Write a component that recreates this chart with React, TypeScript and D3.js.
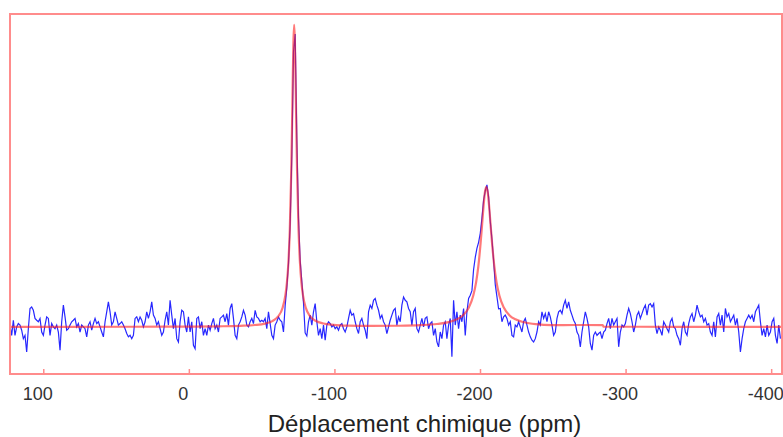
import React from "react";
import * as d3 from "d3";

// ---- data ----
const X_TICKS = [100, 0, -100, -200, -300, -400];
const X_TITLE = "Déplacement chimique (ppm)";
const PPM_RANGE = [123.2, -407.1];
const INTENSITY_RANGE = [-15.6, 103.6];

// experimental spectrum: evenly sampled in ppm
const SPEC_START_PPM = 123.2;
const SPEC_STEP_PPM = 1.1455;
const specIntensity = [
  0.6, -2.8, 2.2, -2.8, 0, 1.1, 0.6, -1.1, -3.9, -2.8,
  -8.3, -0.6, 6.1, 6.6, 5.5, 2.8, 2.2, 1.7, 2.8, -1.7,
  -2.8, 0.6, 3.3, 2.8, -2.8, 1.1, 0, -0.6, 0.6, -1.7,
  -7.7, 1.7, 7.2, 3.3, -1.1, -0.6, 0.6, 1.7, 2.2, 2.8,
  0, 1.1, -1.7, 0.6, 0, -0.6, -3.3, 0.6, 1.7, -1.1,
  1.1, 2.8, 1.1, 1.7, 0, -1.7, -3.3, 1.7, 5.0, 8.3,
  5.0, 0.6, 1.7, 5.0, 2.8, 0.6, 1.1, 1.7, 0.6, -0.6,
  -2.2, -3.3, -2.8, -3.9, -2.8, 2.8, 3.3, 1.7, 3.3, 2.2,
  0, 1.7, 5.0, 2.8, 5.0, 8.3, 3.9, 2.8, 0.6, 1.7,
  -0.6, -2.8, -1.7, 2.2, 5.0, 0.6, 8.8, 3.9, -0.6, 2.8,
  -3.9, -5.0, 1.7, 5.5, 5.0, 0.6, -1.7, 3.3, -1.7, 1.7,
  -6.1, -7.2, 2.8, 3.3, -0.6, 1.7, -2.8, -0.6, -2.8, 0.6,
  -1.1, 1.1, 2.8, -0.6, 0.6, -1.7, 2.8, 3.3, 3.9, 1.7,
  4.4, 0.6, 6.1, 7.7, 2.8, -2.8, -3.9, 0.6, 1.7, 3.3,
  5.5, 3.9, 0.6, 0, 1.7, 2.8, 1.1, 5.5, 3.3, 2.8,
  1.7,
  2.2, 1.7, 2.8, -0.6, 5.0, 1.1, -2.8, -3.9, 0.6, 1.7,
  3.3, 2.2, 1.7, -1.7, 7, 13, 21, 34, 57, 91,
  97, 62, 36, 22, 15, 8, -2, -3, 1.7, 3.9,
  0.6, 5.0, 7.7, 1.7, -2.8, -0.6, -3.9, 0.6, -4.4, 0.6,
  1.7, 1.1, 0, 0.6, -0.6, 0, -1.1, 0.6, 1.1, -0.6,
  -1.7, 0, 2.8, 5.5, 3.9, 4.4, 1.7, -0.6, -2.2, 1.7,
  2.8, 0.6, -1.1, -3.9, 5.0, 7.2, 6.1, 8.8, 9.4, 7.2,
  5.5, 2.8, 3.9, 1.7, 0.6, -2.2, 0, 2.2, 3.9, 5.5,
  6.1, 0.6, 3.3, 1.7, 7.2, 9.9, 8.8, 8.3, 6.1, 5.0,
  0.6, 5.0, 6.1, -0.6, -1.7, 0.6, 2.8, 0, 2.8, 3.3,
  -0.6, 1.1, 1.7, -2.8, -0.6, -5.0, -6.6, -1.7, -3.9, 0.6,
  1.7, -3.9, 0.6, 2.8, -9.9, 8.8, 0.6, 5.0, -0.6, 3.9,
  1.7, 6.1, -2.8, 5.0, 9.4, 10.5,
  12, 19, 23, 26, 28, 31, 36, 42, 45, 47, 43, 35, 29, 22, 14,
  10, 6, 6.1, 1.7, 3.3, 3.9, 2.8, 0.6, 1.7, -2.8, -3.3, 0.6, 0,
  1.7, 0, -1.7, 1.7, 2.8, 0.6, -1.7, -3.3, -4.4, -5.0,
  -3.9, -1.7, 1.7, 0.6, 5.0, 2.8, 4.4, 1.7, 5.0, 3.3,
  0.6, -2.8, -1.7, 2.8, 5.0, 5.5, 4.4, 7.2, 8.8, 6.1,
  8.3, 5.5, 3.9, 2.2, 1.1, -1.7, -2.8, -6.6, -1.7, 1.7,
  5.0, 2.8, 0, -5.5, -7.7, -2.8, -1.7, -2.8, -2.2, -1.7,
  -3.9, -1.7, -1.1, 1.1, 2.8, -0.6, 2.8, 0.6, 1.7, 2.8,
  -6.6, -1.7, 0.6, 0, 1.1, 3.9, 6.1, 4.4, 1.7, -1.7,
  0.6, 3.9, 5.0, 2.8, 4.4, 6.1, 7.2, 3.9, 7.2, 7.7,
  6.6, 7.7, 0.6, -2.2, 0, -1.1, -2.8, 1.7, 0.6, -0.6,
  -1.7, 1.7, 2.8, 0, -0.6, -2.8, -3.9, -6.1, -0.6, 1.7,
  -1.7, -2.8, 1.1, 3.3, 4.4, 1.7, 3.9, 7.2, 5.0, 3.3,
  3.9, 1.7, 2.8, 0.6, 1.1, -1.7, -2.8, 1.7, -3.3, 3.3,
  4.4, 0.6, 3.9, -1.7, 6.1, 3.3, 4.4, 1.7, 2.8, 3.9,
  0.6, 2.8, -1.7, -8.3, -3.9, -0.6, 1.7, 2.8, 3.9, 2.8,
  3.9, 1.7, 5.0, 6.1, 7.2, 1.7, -2.8, -0.6, -3.3, 0.6,
  -2.8, -1.7, 1.7, 2.8, -2.8, -5.5, 0.6, -3.9,
];

// fitted curve (red)
const fitPpm = [
  123.2, 80, 40, 0, -20, -35, -45, -52, -57, -61, -64, -66, -67, -68, -69, -70,
  -70.5, -71, -71.5, -72, -72.5, -73, -73.5, -74, -75, -76, -77, -78, -80, -83,
  -87, -92, -99, -109, -124, -144, -159, -170, -178, -184, -188, -192, -195, -197,
  -198.5, -200, -201, -202, -203, -204, -205, -206, -207, -208, -209.5, -211, -213,
  -216, -220, -224, -230, -238, -249, -265, -284, -284.5, -310, -350, -407.1,
];
const fitIntensity = [
  0.02, 0.03, 0.05, 0.11, 0.19, 0.35, 0.62, 1.1, 1.9, 3.44, 6.26, 10.6, 14.6, 21.0, 32.1, 51.5,
  65.3, 80.9, 94.4, 100, 94.4, 80.9, 65.4, 51.5, 32.2, 21.1, 14.6, 10.6, 6.28, 3.46,
  1.93, 1.13, 0.68, 0.42, 0.32, 0.38, 0.58, 0.95, 1.57, 2.56, 3.85, 6.42, 10.3, 14.8,
  20.0, 27.4, 33.3, 39.5, 44.5, 46.4, 44.5, 39.5, 33.3, 27.4, 20.0, 14.8, 10.3,
  6.4, 3.8, 2.5, 1.53, 0.9, 0.6, 0.62, 0.6, 0.05, 0.04, 0.03, 0.02,
];

const W = 783;
const H = 437;
const FRAME = { left: 10, right: 782, top: 14, bottom: 374 };
const FONT = "'Liberation Sans', Arial, sans-serif";

export default function App() {
  const x = d3.scaleLinear().domain(PPM_RANGE).range([FRAME.left, FRAME.right]);
  const y = d3.scaleLinear().domain(INTENSITY_RANGE).range([FRAME.bottom, FRAME.top]);

  const spec: [number, number][] = specIntensity.map((v, i) => [SPEC_START_PPM - i * SPEC_STEP_PPM, v]);
  const fit: [number, number][] = fitPpm.map((p, i) => [p, fitIntensity[i]]);

  const specLine = d3
    .line<[number, number]>()
    .x((d) => x(d[0]))
    .y((d) => y(d[1]));
  const fitLine = d3
    .line<[number, number]>()
    .x((d) => x(d[0]))
    .y((d) => y(d[1]))
    .curve(d3.curveMonotoneX);

  const frameColor = "#ff8c8c";

  return (
    <svg
      width={W}
      height={H}
      style={{ position: "absolute", left: 0, top: 0, background: "#fff" }}
    >
      <defs>
        <clipPath id="plotClip">
          <rect x={FRAME.left} y={FRAME.top} width={FRAME.right - FRAME.left} height={FRAME.bottom - FRAME.top} />
        </clipPath>
      </defs>
      <g clipPath="url(#plotClip)">
        <path d={specLine(spec) || ""} fill="none" stroke="#1010ff" strokeWidth={1.2} strokeOpacity={0.9} />
        <path d={fitLine(fit) || ""} fill="none" stroke="#ff2020" strokeWidth={2.2} strokeOpacity={0.6} />
      </g>
      <rect
        x={FRAME.left}
        y={FRAME.top}
        width={FRAME.right - FRAME.left}
        height={FRAME.bottom - FRAME.top}
        fill="none"
        stroke={frameColor}
        strokeWidth={2}
      />
      {X_TICKS.map((t) => (
        <g key={t}>
          <line x1={x(t)} x2={x(t)} y1={FRAME.bottom} y2={FRAME.bottom - 5} stroke={frameColor} strokeWidth={1.5} />
          <text
            x={x(t) - 6}
            y={400}
            textAnchor="middle"
            fontFamily={FONT}
            fontSize={18}
            fill="#333"
          >
            {t}
          </text>
        </g>
      ))}
      <text x={424.5} y={431.5} textAnchor="middle" fontFamily={FONT} fontSize={24} fill="#222">
        {X_TITLE}
      </text>
    </svg>
  );
}
